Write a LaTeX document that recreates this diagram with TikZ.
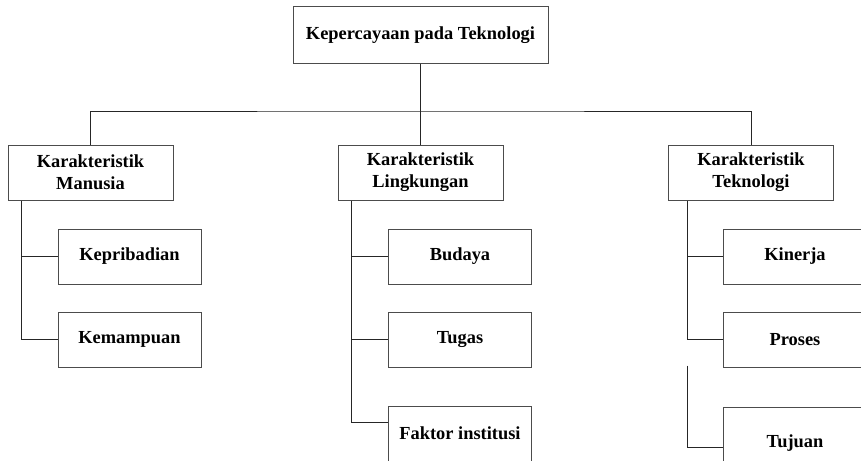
\documentclass[tikz,border=0pt]{standalone}
\usepackage{fontspec}
\setmainfont{Liberation Serif}
\tikzset{
  box/.style = {draw=black!70, line width=1pt, fill=white, align=center,
    font=\fontsize{18.4}{22}\selectfont\bfseries, inner sep=0pt},
  rootbox/.style = {box, minimum width=255pt, minimum height=56pt},
  groupbox/.style = {box, minimum width=165pt, minimum height=55pt},
  itembox/.style = {box, minimum width=143pt, minimum height=55pt},
  link/.style = {draw=black!85, line width=1pt}
}

\begin{document}
\begin{tikzpicture}[x=1pt,y=-1pt]
    \useasboundingbox (0,0) rectangle (861,460);
    \node[rootbox] (root) at (420.5,35) {Kepercayaan pada Teknologi};
    \node[groupbox] (manusia) at (90.5,172.5) {Karakteristik\\Manusia};
    \node[groupbox] (lingkungan) at (420.5,172.5) {Karakteristik\\Lingkungan};
    \node[groupbox] (teknologi) at (751,172.5) {Karakteristik\\Teknologi};
    \node[itembox] (kepribadian) at (129.5,256.5) {Kepribadian};
    \node[itembox] (kemampuan) at (129.5,339.5) {Kemampuan};
    \node[itembox] (budaya) at (460,256.5) {Budaya};
    \node[itembox] (tugas) at (460,339.5) {Tugas};
    \node[itembox] (faktor) at (460,433.5) {Faktor institusi};
    \node[itembox] (kinerja) at (795,256.5) {Kinerja};
    \node[itembox] (proses) at (795,339.5) {Proses};
    \node[itembox,minimum height=72pt] (tujuan) at (795,443) {Tujuan};
    % top level
    \coordinate (bus) at (420.5,111);
    \draw[link] (root.south) -- (bus) -- (lingkungan.north);
    \draw[link] (manusia.north) |- (bus) -| (teknologi.north);
    % left group
    \coordinate (mtrunk) at ([xshift=14pt]manusia.south west);
    \draw[link] (mtrunk) |- (kemampuan.west);
    \draw[link] (kepribadian.west) -- (kepribadian.west -| mtrunk);
    % middle group
    \coordinate (ltrunk) at ([xshift=14pt]lingkungan.south west);
    \draw[link] (ltrunk) |- ([yshift=11.5pt]faktor.west);
    \draw[link] (budaya.west) -- (budaya.west -| ltrunk);
    \draw[link] (tugas.west) -- (tugas.west -| ltrunk);
    % right group
    \coordinate (ttrunk) at ([xshift=19pt]teknologi.south west);
    \draw[link] (ttrunk) |- (proses.west);
    \draw[link] (kinerja.west) -- (kinerja.west -| ttrunk);
    \draw[link] ([yshift=2pt]proses.south -| ttrunk) |- ([yshift=-4pt]tujuan.west);
\end{tikzpicture}
\end{document}
